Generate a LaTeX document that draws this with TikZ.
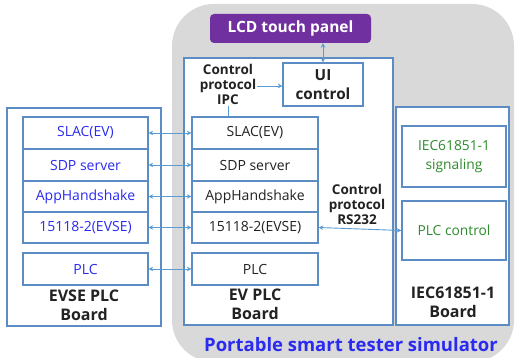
\documentclass[tikz,border=0pt]{standalone}
\usepackage{fontspec}
\setmainfont{Open Sans}
\usetikzlibrary{arrows.meta}
\definecolor{bordc}{HTML}{5B8CC4}
\definecolor{arrc}{HTML}{5B9BD5}
\definecolor{grayreg}{HTML}{D9D9D9}
\definecolor{purp}{HTML}{7030A0}
\definecolor{bluetxt}{HTML}{2B2BF0}
\definecolor{greentxt}{HTML}{2E8B2E}
\definecolor{darktxt}{HTML}{222222}
\begin{document}
\begin{tikzpicture}[x=1pt,y=-1pt,
  box/.style={draw=bordc,line width=1.3pt,fill=white,inner sep=0pt,align=center,font=\fontsize{14}{16}\selectfont},
  outer/.style={draw=bordc,line width=1.3pt,fill=white},
  conn/.style={draw=arrc,line width=0.9pt,{Stealth[length=4.5pt,width=4.5pt]}-{Stealth[length=4.5pt,width=4.5pt]}},
  conr/.style={draw=arrc,line width=0.9pt,-{Stealth[length=4.5pt,width=4.5pt]}},
  lab/.style={font=\bfseries\fontsize{16}{19}\selectfont,text=darktxt,align=center,inner sep=0pt},
  slab/.style={font=\bfseries\fontsize{13.5}{15}\selectfont,text=darktxt,align=center,inner sep=0pt}]
\useasboundingbox (0,0) rectangle (516,358);
% gray region
\begin{scope}
\clip (0,0) rectangle (516,358);
\fill[grayreg,rounded corners=42pt] (172,4) rectangle (514,362);
\end{scope}
% LCD
\node[fill=purp,rounded corners=4pt,minimum width=161pt,minimum height=29pt,inner sep=0pt,text=white,font=\bfseries\fontsize{15.5}{17}\selectfont] (lcd) at (290.5,28.5) {LCD touch panel};
% outer boards
\draw[outer] (7,108) rectangle (161,326);
\draw[outer] (184,58) rectangle (393,325);
\draw[outer] (396,107) rectangle (509,325);
% UI control
\node[box,minimum width=80pt,minimum height=43pt,font=\bfseries\fontsize{15.3}{19}\selectfont,text=darktxt] (ui) at (323,84.5) {UI\\control};
% EVSE stack
\begin{scope}[every node/.style={box,minimum width=125pt,text=bluetxt}]
\node[minimum height=32pt] (eslac) at (85.5,133) {SLAC(EV)};
\node[minimum height=32pt] (esdp) at (85.5,165) {SDP server};
\node[minimum height=31pt] (eapp) at (85.5,196.5) {AppHandshake};
\node[minimum height=31pt] (e15) at (85.5,227.5) {15118-2(EVSE)};
\node[minimum height=32pt] (eplc) at (85.5,269) {PLC};
\end{scope}
% EV stack
\begin{scope}[every node/.style={box,minimum width=126pt,text=darktxt}]
\node[minimum height=32pt] (vslac) at (255,133) {SLAC(EV)};
\node[minimum height=32pt] (vsdp) at (255,165) {SDP server};
\node[minimum height=31pt] (vapp) at (255,196.5) {AppHandshake};
\node[minimum height=31pt] (v15) at (255,227.5) {15118-2(EVSE)};
\node[minimum height=32pt] (vplc) at (255,269) {PLC};
\end{scope}
% IEC stack
\begin{scope}[every node/.style={box,minimum width=104pt,text=greentxt,font=\fontsize{13.8}{19}\selectfont}]
\node[minimum height=61pt] (isig) at (454,156.5) {IEC61851-1\\signaling};
\node[minimum height=59pt] (iplc) at (454,230.5) {PLC control};
\end{scope}
% board labels
\node[lab] (evselab) at (84,305.5) {EVSE PLC\\Board};
\node[lab] (evlab) at (255,304.5) {EV PLC\\Board};
\node[lab] (ieclab) at (453,302.5) {IEC61851-1\\Board};
% protocol labels
\node[slab] (ipc) at (228,84) {Control\\protocol\\IPC};
\node[slab] (rs) at (357,204) {Control\\protocol\\RS232};
% title
\node[font=\bfseries\fontsize{18.5}{20}\selectfont,text=bluetxt,inner sep=0pt] (title) at (351,345) {Portable smart tester simulator};
% connectors
\draw[conn] (eslac.east) -- (vslac.west);
\draw[conn] (esdp.east) -- (vsdp.west);
\draw[conn] (eapp.east) -- (vapp.west);
\draw[conn] (e15.east) -- (v15.west);
\draw[conn] (eplc.east) -- (vplc.west);
\draw[conn] (iplc.west) -- (v15.east);
\draw[conn] (lcd.south -| ui.north) -- (ui.north);
\draw[conr] (ipc.east |- ui.west) ++(1,1.5) coordinate (ipcend) -- (ui.west |- ipcend);
\draw[draw=arrc,line width=0.9pt] (ipc.south) ++(0,2) coordinate (ipcb) -- (vslac.north -| ipcb);
\end{tikzpicture}
\end{document}
